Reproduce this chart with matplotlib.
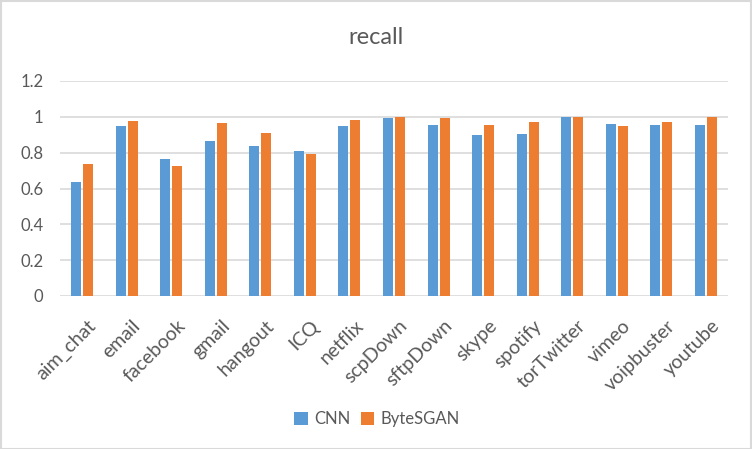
import matplotlib.pyplot as plt
import matplotlib.transforms as mtransforms
import numpy as np
from matplotlib.patches import Rectangle

categories = ['aim_chat', 'email', 'facebook', 'gmail', 'hangout', 'ICQ', 'netflix',
              'scpDown', 'sftpDown', 'skype', 'spotify', 'torTwitter', 'vimeo',
              'voipbuster', 'youtube']
cnn = [0.635, 0.948, 0.763, 0.864, 0.836, 0.808, 0.948,
       0.993, 0.953, 0.898, 0.903, 0.998, 0.959, 0.953, 0.953]
bytesgan = [0.736, 0.976, 0.724, 0.965, 0.909, 0.791, 0.981,
            0.998, 0.993, 0.953, 0.970, 0.998, 0.948, 0.970, 1.0]
yticks = [0, 0.2, 0.4, 0.6, 0.8, 1, 1.2]

plt.rcParams['font.family'] = ['Lato', 'DejaVu Sans']
txt = '#595959'

fig = plt.figure(figsize=(7.52, 4.49), dpi=100)
ax = fig.add_axes([60 / 752, 1 - 296 / 449, 668 / 752, 215 / 449])
fig.patches.append(Rectangle((0.5 / 752, 0.5 / 449), 1 - 1.5 / 752, 1 - 1.5 / 449,
                             transform=fig.transFigure, fill=False,
                             edgecolor='#d9d9d9', linewidth=1.5))

x = np.arange(len(categories))
w = 0.225
ax.bar(x - 0.135, cnn, w, color='#5b9bd5', label='CNN', zorder=3)
ax.bar(x + 0.135, bytesgan, w, color='#ed7d31', label='ByteSGAN', zorder=3)

ax.set_xlim(-0.5, len(categories) - 0.5)
ax.set_ylim(0, 1.2)
ax.set_yticks(yticks)
ax.set_yticklabels(['0', '0.2', '0.4', '0.6', '0.8', '1', '1.2'])
ax.yaxis.grid(True, color='#d9d9d9', linewidth=1.2, zorder=0)
ax.set_axisbelow(True)
for s in ax.spines.values():
    s.set_visible(False)
ax.tick_params(length=0, labelsize=12, labelcolor=txt)
ax.tick_params(axis='y', pad=12)
ax.set_xticks(x)
ax.set_xticklabels(categories, rotation=45, ha='right', rotation_mode='anchor',
                   fontsize=14)
ax.tick_params(axis='x', pad=15)
shift = mtransforms.ScaledTranslation(5 / 100, 0, fig.dpi_scale_trans)
for lab in ax.get_xticklabels():
    lab.set_transform(lab.get_transform() + shift)

fig.text(0.5, 1 - 37 / 449, 'recall', ha='center', va='center', fontsize=17, color=txt)
fig.legend(loc='center', bbox_to_anchor=(377 / 752, 1 - 419 / 449), ncol=2,
           frameon=False, fontsize=12, labelcolor=txt, handlelength=0.8,
           handleheight=0.8, handletextpad=0.4, columnspacing=0.6)

fig.savefig('out.png', dpi=100)
